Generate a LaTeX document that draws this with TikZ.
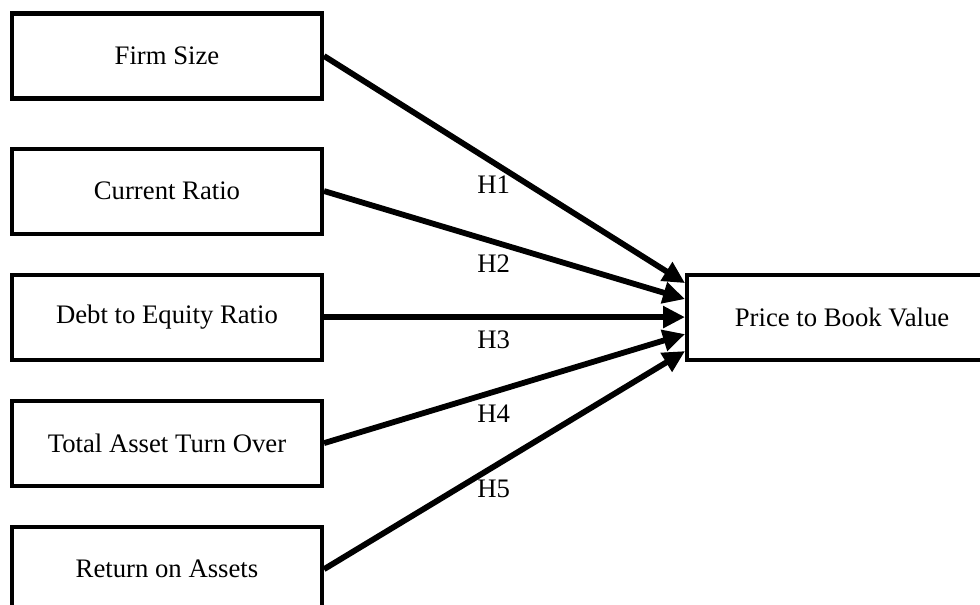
\documentclass[tikz,border=0pt]{standalone}
\usepackage{fontspec}
\setmainfont{Liberation Serif}
\usepackage{tikz}
\usetikzlibrary{arrows.meta, positioning}

\begin{document}
\begin{tikzpicture}[
  varbox/.style={draw, line width=2.3pt, minimum width=6.2cm, minimum height=1.7cm,
    font=\fontsize{15.2}{18}\selectfont},
  hyp/.style={-{Triangle[length=4.4mm, width=4.2mm]}, line width=3.3pt},
  hlab/.style={below, pos=0.47, inner sep=6pt, font=\fontsize{15.2}{18}\selectfont},
  node distance=0.74cm
]
  \useasboundingbox (0,0) rectangle (19.6,12.08);

  % independent variables
  \node[varbox] (fs) at (3.34,10.96) {Firm Size};
  \node[varbox, below=0.92cm of fs] (cr) {Current Ratio};
  \node[varbox, below=of cr] (der) {Debt to Equity Ratio};
  \node[varbox, below=of der] (tato) {Total Asset Turn Over};
  \node[varbox, below=of tato] (roa) {Return on Assets};

  % dependent variable
  \node[varbox, right=7.22cm of der] (pbv) {Price to Book Value};

  \coordinate (in1) at ([yshift=0.68cm]pbv.west);
  \coordinate (in2) at ([yshift=0.36cm]pbv.west);
  \coordinate (in3) at (pbv.west);
  \coordinate (in4) at ([yshift=-0.34cm]pbv.west);
  \coordinate (in5) at ([yshift=-0.68cm]pbv.west);

  \draw[hyp] (fs.east) -- (in1) node[hlab]{H1};
  \draw[hyp] (cr.east) -- (in2) node[hlab]{H2};
  \draw[hyp] (der.east) -- (in3) node[hlab]{H3};
  \draw[hyp] (tato.east) -- (in4) node[hlab]{H4};
  \draw[hyp] (roa.east) -- (in5) node[hlab]{H5};
\end{tikzpicture}
\end{document}
